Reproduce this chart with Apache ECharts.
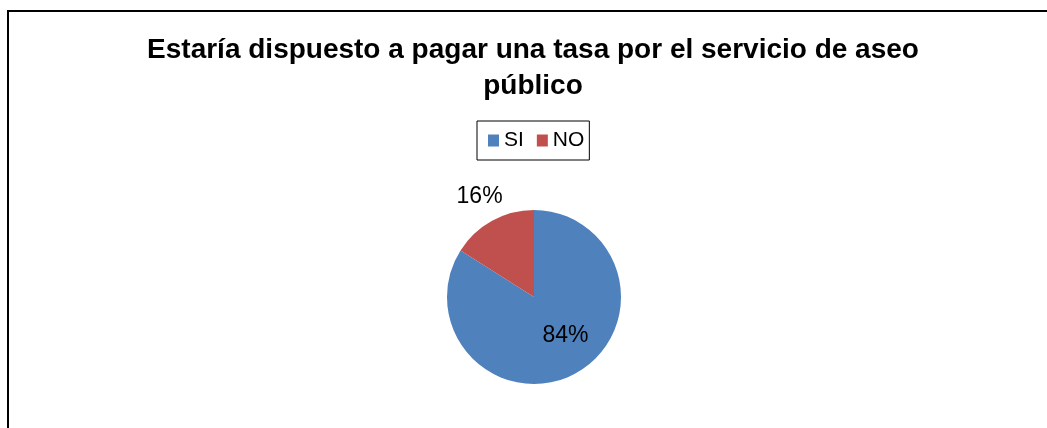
<!DOCTYPE html>
<html>
<head>
<meta charset="utf-8">
<script src="https://cdn.jsdelivr.net/npm/echarts@6/dist/echarts.min.js"></script>
<style>
  html, body { margin: 0; padding: 0; background: #fff; }
  #frame { position: absolute; left: 7px; top: 10px; width: 1040px; height: 418px;
           border-left: 2px solid #000; border-top: 2px solid #000; box-sizing: border-box; }
  #pie { position: absolute; left: 0; top: 0; width: 1047px; height: 428px; }
</style>
</head>
<body>
<div id="frame"></div>
<div id="pie"></div>
<script>
// datos de la encuesta
var categorias = ['SI', 'NO'];
var valores = [84, 16];
var colores = ['#4f81bd', '#c0504d'];
var titulo = 'Estaría dispuesto a pagar una tasa por el servicio de aseo\npúblico';

function draw_pie() {
    var myChart = echarts.init(document.getElementById('pie'));

    var datos = [];
    for (var i = 0; i < categorias.length; i++) {
        datos.push({ name: categorias[i], value: valores[i], itemStyle: { color: colores[i] } });
    }

    var option = {
        animation: false,
        title: {
            text: titulo,
            left: 528,
            top: 27,
            textAlign: 'center',
            textStyle: {
                fontFamily: 'Liberation Sans',
                fontSize: 28,
                fontWeight: 'bold',
                color: '#000',
                lineHeight: 36
            }
        },
        legend: {
            data: categorias,
            left: 477,
            top: 121,
            orient: 'horizontal',
            itemWidth: 11,
            itemHeight: 12,
            itemGap: 13,
            padding: [9, 5, 9, 11],
            borderColor: '#000',
            borderWidth: 1,
            icon: 'rect',
            textStyle: { fontFamily: 'Liberation Sans', fontSize: 21, color: '#000' }
        },
        series: [{
            type: 'pie',
            center: [534, 297],
            radius: 87,
            startAngle: 90,
            clockwise: true,
            data: datos,
            label: {
                show: true,
                position: 'inside',
                formatter: '{d}%',
                fontFamily: 'Liberation Sans',
                fontSize: 23,
                color: '#000'
            },
            labelLine: { show: false },
            emphasis: { disabled: true }
        }]
    };

    // 84% dentro del sector, 16% fuera arriba a la izquierda
    option.series[0].data[0].label = { offset: [9, -2] };
    option.series[0].data[1].label = { offset: [-32, -60] };

    myChart.setOption(option);
}
draw_pie();
</script>
</body>
</html>
